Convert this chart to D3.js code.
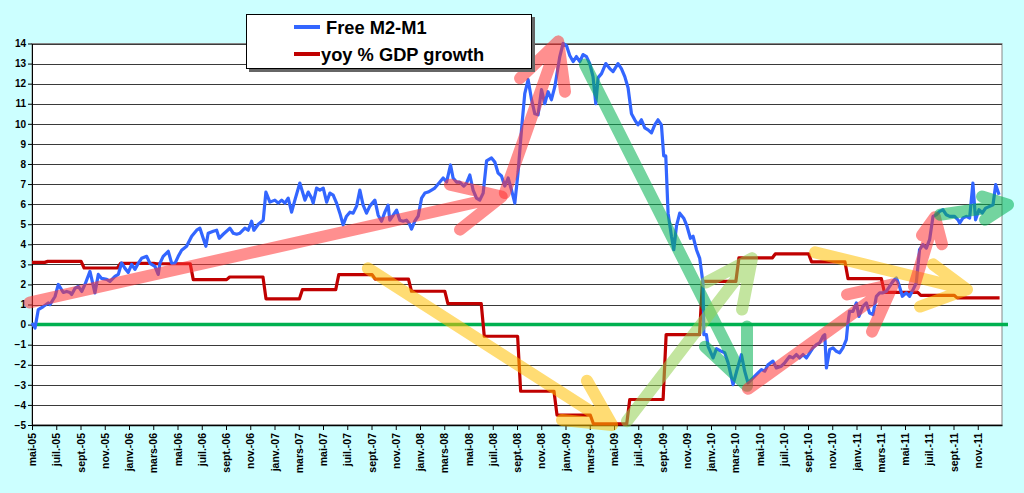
<!DOCTYPE html>
<html><head><meta charset="utf-8">
<script src="https://cdn.jsdelivr.net/npm/d3@7"></script>
<style>
html,body{margin:0;padding:0;background:#ccffff;}
svg{display:block;font-family:"Liberation Sans",Arial,sans-serif;}
</style></head>
<body>
<svg id="chart" width="1024" height="493"></svg>
<script>
// ---------- DATA ----------
const xLabels = ["mai-05","juil.-05","sept.-05","nov.-05","janv.-06","mars-06","mai-06","juil.-06","sept.-06","nov.-06",
"janv.-07","mars-07","mai-07","juil.-07","sept.-07","nov.-07","janv.-08","mars-08","mai-08","juil.-08",
"sept.-08","nov.-08","janv.-09","mars-09","mai-09","juil.-09","sept.-09","nov.-09","janv.-10","mars-10",
"mai-10","juil.-10","sept.-10","nov.-10","janv.-11","mars-11","mai-11","juil.-11","sept.-11","nov.-11"];
const xTickMonths = [0,2,4,6,8,10,12,14,16,18,20,22,24,26,28,30,32,34,36,38,40,42,44,46,48,50,52,54,56,58,60,62,64,66,68,70,72,74,76,78];
const yTicks = [-5,-4,-3,-2,-1,0,1,2,3,4,5,6,7,8,9,10,11,12,13,14];

// Free M2-M1 : months since mai-05, value
const m2Months = [0.0,0.25,0.52,0.93,1.34,1.48,1.9,2.17,2.58,2.86,3.13,3.27,3.54,3.82,4.1,4.37,4.78,5.19,5.47,5.74,6.16,6.43,6.84,7.12,7.39,7.67,7.94,8.22,8.49,8.76,9.04,9.46,9.73,10.14,10.41,10.55,10.82,11.24,11.52,11.79,12.06,12.34,12.75,13.17,13.58,13.85,14.12,14.34,14.53,14.95,15.23,15.44,15.77,16.32,16.6,16.88,17.15,17.56,17.83,18.11,18.3,18.66,19.07,19.29,19.62,20.03,20.31,20.59,20.86,21.13,21.41,21.68,22.09,22.51,22.78,23.06,23.19,23.47,23.74,24.02,24.3,24.57,24.84,25.12,25.39,25.66,25.94,26.22,26.49,26.77,27.04,27.31,27.59,27.86,28.28,28.55,28.83,29.1,29.37,29.51,29.79,30.07,30.34,30.61,30.89,31.1,31.3,31.57,31.85,32.13,32.4,32.67,32.95,33.22,33.64,33.91,34.19,34.52,34.73,35.01,35.28,35.61,35.84,36.11,36.38,36.66,36.93,37.21,37.49,37.9,38.17,38.44,38.72,38.99,39.27,39.55,39.82,40.09,40.37,40.64,40.92,41.2,41.47,41.74,42.02,42.29,42.56,42.84,43.12,43.53,43.8,44.08,44.35,44.63,44.9,45.18,45.45,45.73,46.0,46.27,46.5,46.69,46.97,47.32,47.65,47.92,48.33,48.61,48.89,49.16,49.44,49.71,49.98,50.26,50.54,50.81,51.09,51.36,51.63,51.91,52.1,52.27,52.46,52.74,52.93,53.15,53.42,53.75,54.02,54.3,54.52,54.8,55.07,55.34,55.41,55.62,55.76,56.17,56.45,56.86,57.13,57.41,57.82,58.1,58.51,58.78,59.05,59.47,59.88,60.16,60.43,60.7,61.11,61.39,61.8,62.08,62.49,62.76,63.04,63.31,63.59,63.87,64.14,64.41,64.69,64.96,65.24,65.38,65.52,65.79,66.06,66.34,66.61,66.88,67.16,67.29,67.43,67.71,67.99,68.2,68.53,68.81,69.08,69.36,69.64,69.91,70.18,70.46,70.73,71.01,71.29,71.5,71.78,72.11,72.38,72.66,72.93,73.2,73.48,73.76,74.03,74.31,74.58,74.86,75.13,75.41,75.68,76.09,76.37,76.51,76.78,77.06,77.33,77.6,77.82,78.1,78.38,78.65,78.98,79.26,79.48,79.76];
const m2Values = [0.08,-0.17,0.75,0.9,1.08,1.0,1.4,2.0,1.6,1.65,1.6,1.5,1.8,1.9,1.65,2.0,2.65,1.58,2.5,2.3,2.25,2.15,2.4,2.5,3.07,2.8,2.6,3.0,2.75,3.05,3.3,3.4,3.05,2.9,2.5,3.05,3.4,3.65,3.05,3.05,3.4,3.7,3.9,4.4,4.7,4.8,4.3,3.9,4.55,4.65,4.7,4.3,4.5,4.8,4.55,4.5,4.55,4.8,4.7,5.15,4.7,5.0,5.2,6.6,6.1,6.2,6.05,6.2,6.05,6.3,5.6,6.2,7.05,6.2,6.6,6.3,6.05,6.8,6.7,6.8,6.1,6.55,6.45,6.05,5.55,4.97,5.4,5.6,5.55,5.9,6.7,5.95,5.55,5.9,6.2,5.45,5.15,5.6,5.95,5.2,5.45,5.7,5.2,5.15,5.2,5.05,4.76,5.15,5.4,6.3,6.55,6.6,6.7,6.8,7.1,7.3,7.1,7.95,7.3,7.1,7.1,6.9,7.05,7.45,6.7,6.3,6.2,6.55,8.15,8.3,8.1,7.55,7.4,6.9,7.3,6.7,6.05,7.6,9.7,11.5,12.2,11.2,10.5,10.45,11.7,11.0,11.6,11.2,11.85,13.35,14.0,13.9,13.4,13.1,13.35,13.1,13.45,13.35,13.0,12.35,11.0,12.3,12.5,13.0,12.75,12.6,13.0,12.75,12.35,11.8,10.5,10.2,9.95,10.2,9.8,9.7,9.55,9.95,10.2,9.95,8.4,8.4,5.55,4.4,3.73,4.9,5.55,5.3,4.9,4.3,4.4,3.73,3.3,2.07,-0.5,-0.5,-1.08,-1.66,-1.2,-1.33,-1.4,-1.9,-2.99,-2.35,-1.5,-2.32,-2.9,-2.65,-2.4,-2.24,-2.32,-2.0,-1.82,-2.16,-2.07,-1.9,-1.58,-1.66,-1.49,-1.66,-1.49,-1.66,-1.41,-1.16,-1.0,-0.91,-0.58,-0.5,-2.16,-1.24,-1.16,-1.33,-1.41,-1.16,-0.75,0.08,0.66,0.66,1.08,0.41,0.91,1.08,0.58,0.5,1.41,1.58,1.58,1.66,1.91,2.16,2.32,1.99,1.41,1.58,1.41,1.74,2.07,3.73,3.98,3.81,4.23,5.39,5.47,5.64,5.72,5.47,5.39,5.39,5.22,5.06,5.31,5.39,5.31,7.05,5.22,5.72,5.56,5.8,5.89,5.97,6.97,6.47];

// yoy % GDP growth : quarterly steps (start month, value)
const gdpStarts = [0,1.3,4.3,7.3,10.3,13.3,16.3,19.3,22.3,25.3,28.3,31.3,34.3,37.3,40.3,43.3,46.3,49.3,52.3,55.3,58.3,61.3,64.3,67.3,70.3,73.3,76.3];
const gdpValues = [3.1,3.15,2.82,3.05,3.03,2.24,2.37,1.28,1.74,2.49,2.27,1.66,1.04,-0.58,-3.32,-4.51,-4.94,-3.73,-0.5,2.15,3.32,3.52,3.12,2.29,1.61,1.46,1.33];
const gdpEnd = 79.8;

// hand-drawn trend arrows (month, value)
const arrowColors = ["#ff3333","#ff3333","#00b050","#ffc000","#92d050","#ff3333","#ffc000","#ff3333","#00b050"];
const arrowFrom   = [[-0.2,1.1],[39.0,6.55],[45.6,12.95],[27.7,2.8],[49.07,-4.81],[59.05,-3.2],[64.58,3.6],[72.74,1.9],[74.89,5.47]];
const arrowTip    = [[38.74,6.38],[43.4,14.1],[58.97,-3.05],[47.84,-5.0],[59.38,3.3],[71.01,2.0],[77.11,1.75],[74.47,5.35],[80.5,5.97]];
const arrowArmA   = [[34.47,6.97],[40.25,12.27],[55.5,-1.1],[45.77,-2.8],[58.56,0.75],[67.22,1.5],[74.31,3.0],[73.4,4.45],[78.35,6.38]];
const arrowArmB   = [[35.3,4.73],[43.96,11.6],[58.97,-0.1],[43.71,-4.75],[55.59,2.1],[69.28,-0.35],[73.24,0.9],[75.05,4.0],[78.6,5.22]];

(function(){
// ---------- CHART ----------
const svg = d3.select("#chart");
const pLeft = 32, pRight = 1002, pTop = 43.5, pBottom = 425;
const x = d3.scaleLinear().domain([0,80]).range([pLeft,pRight]);
const y = d3.scaleLinear().domain([-5,14]).range([pBottom,pTop]);

svg.append("rect").attr("width",1024).attr("height",493).attr("fill","#ccffff");
svg.append("rect").attr("x",pLeft).attr("y",pTop).attr("width",pRight-pLeft).attr("height",pBottom-pTop)
  .attr("fill","#fff").attr("stroke","#888").attr("stroke-width",1);

// grid
svg.append("g").selectAll("line").data(yTicks).join("line")
  .attr("x1",pLeft).attr("x2",pRight)
  .attr("y1",d=>Math.round(y(d))+0.5).attr("y2",d=>Math.round(y(d))+0.5)
  .attr("stroke","#3a3a3a").attr("stroke-width",1);

// y axis
const yAxis = svg.append("g").attr("transform",`translate(${pLeft},0)`)
  .call(d3.axisLeft(y).tickValues(yTicks).tickSize(4).tickSizeOuter(0));
yAxis.selectAll("text").attr("font-size",10).attr("font-weight","bold").attr("fill","#000")
  .attr("font-family","'Liberation Sans',Arial,sans-serif").attr("x",-6);
yAxis.select(".domain").attr("stroke","#000");
yAxis.selectAll(".tick line").attr("stroke","#000");

// x axis
const xAxis = svg.append("g").attr("transform",`translate(0,${pBottom})`)
  .call(d3.axisBottom(x).tickValues(xTickMonths).tickFormat((d,i)=>xLabels[i]).tickSize(5).tickSizeOuter(0));
xAxis.select(".domain").attr("stroke","#000").attr("stroke-width",1.5);
xAxis.selectAll(".tick line").attr("stroke","#000");
xAxis.selectAll("text")
  .attr("font-size",10.5).attr("font-weight","bold").attr("fill","#000")
  .attr("font-family","'Liberation Sans',Arial,sans-serif")
  .attr("transform","rotate(-90)").attr("x",-8).attr("y",0).attr("dy","0.35em")
  .style("text-anchor","end");

// zero line
svg.append("line").attr("x1",pLeft).attr("x2",1008).attr("y1",y(0)).attr("y2",y(0))
  .attr("stroke","#00b050").attr("stroke-width",3.5);

// GDP step line
const gdpPts = [];
gdpStarts.forEach((s,i)=>{
  const e = i < gdpStarts.length-1 ? gdpStarts[i+1]-0.25 : gdpEnd;
  gdpPts.push([s,gdpValues[i]]); gdpPts.push([e,gdpValues[i]]);
});
const line = d3.line().x(d=>x(d[0])).y(d=>y(d[1]));
svg.append("path").attr("d",line(gdpPts)).attr("fill","none")
  .attr("stroke","#c00000").attr("stroke-width",3.2).attr("stroke-linejoin","round");

// M2-M1 line
const m2Pts = m2Months.map((m,i)=>[m,m2Values[i]]);
svg.append("path").attr("d",line(m2Pts)).attr("fill","none")
  .attr("stroke","#3366ff").attr("stroke-width",3.2).attr("stroke-linejoin","round");

// arrows
arrowColors.forEach((c,i)=>{
  const p = d3.path();
  const P = d=>[x(d[0]),y(d[1])];
  const f=P(arrowFrom[i]), t=P(arrowTip[i]), a=P(arrowArmA[i]), b=P(arrowArmB[i]);
  p.moveTo(f[0],f[1]); p.lineTo(t[0],t[1]);
  p.moveTo(a[0],a[1]); p.lineTo(t[0],t[1]); p.lineTo(b[0],b[1]);
  svg.append("g").attr("opacity",0.55)
    .append("path").attr("d",p.toString()).attr("fill","none")
    .attr("stroke",c).attr("stroke-width",12)
    .attr("stroke-linecap","round").attr("stroke-linejoin","round");
});

// legend
const lg = svg.append("g");
lg.append("rect").attr("x",249).attr("y",17).attr("width",286).attr("height",55).attr("fill","#666");
lg.append("rect").attr("x",246.5).attr("y",14.5).attr("width",285).attr("height",54)
  .attr("fill","#fff").attr("stroke","#000").attr("stroke-width",1);
const legendNames = ["Free M2-M1","yoy % GDP growth"];
const legendColors = ["#3366ff","#c00000"];
legendNames.forEach((n,i)=>{
  const yy = 27 + i*27;
  lg.append("line").attr("x1",294).attr("x2",320).attr("y1",yy).attr("y2",yy)
    .attr("stroke",legendColors[i]).attr("stroke-width",4);
  lg.append("text").attr("x",i===0?326:321).attr("y",yy+6.5).text(n)
    .attr("font-size",18.3).attr("font-weight","bold").attr("fill","#000");
});
})();
</script>
</body></html>
